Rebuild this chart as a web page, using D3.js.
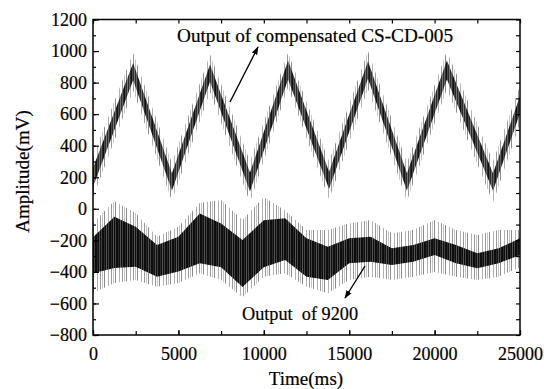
<!DOCTYPE html>
<html>
<head>
<meta charset="utf-8">
<script src="https://cdnjs.cloudflare.com/ajax/libs/d3/7.8.5/d3.min.js"></script>
<style>
  body { margin: 0; background: #fff; }
  text { font-family: "Liberation Serif", "Times New Roman", serif; fill: #000; stroke: #000; stroke-width: 0.2px; }
</style>
</head>
<body>
<div id="chart"></div>
<script>
// compensated CS-CD-005 output: centre line at the corners of the triangle wave (ms, mV)
var topTime = [0, 2350, 4620, 6850, 9190, 11420, 13820, 16100, 18380, 20720, 23420, 25000];
var topMid  = [200, 870, 170, 860, 170, 880, 180, 880, 170, 880, 170, 660];
var topCore  = [60, 55, 55, 55, 60, 60, 55, 55, 55, 60, 55, 55];   // half width of the dense band
var topSpike = [130, 120, 120, 120, 130, 110, 120, 120, 120, 120, 130, 120]; // half width of spikes

// 9200 output: envelopes (ms, mV)
var botTime = [0, 1250, 2500, 3750, 5000, 6250, 7500, 8750, 10000, 11250, 12500,
               13750, 15000, 16250, 17500, 18750, 20000, 21250, 22500, 23750, 25000];
var botCoreHi = [-180, -50, -113, -230, -177, -30, -93, -198, -72, -60, -187,
                 -240, -187, -177, -250, -230, -187, -230, -282, -250, -187];
var botCoreLo = [-408, -375, -367, -430, -398, -345, -370, -496, -370, -325, -430,
                 -452, -345, -335, -356, -335, -293, -345, -377, -345, -293];
var botSpikeHi = [-90, 50, -27, -177, -113, 36, 55, -71, 75, -10, -135,
                  -135, -93, -71, -155, -135, -71, -135, -166, -135, -135];
var botSpikeLo = [-533, -470, -452, -494, -470, -408, -452, -560, -430, -408, -494,
                  -535, -452, -430, -452, -430, -400, -430, -452, -430, -370];

var xTicks = [0, 5000, 10000, 15000, 20000, 25000];
var yTicks = [-800, -600, -400, -200, 0, 200, 400, 600, 800, 1000, 1200];

var margin = {top: 19.5, right: 24, bottom: 54, left: 93},
    W = 544, H = 389,
    width = W - margin.left - margin.right,
    height = H - margin.top - margin.bottom;

var svg = d3.select("#chart").append("svg")
    .attr("width", W).attr("height", H);

var defs = svg.append("defs");

// vertical stroke textures, like dense sampled noise
function stripes(id, w, bg, lines){
  var p = defs.append("pattern").attr("id", id)
      .attr("patternUnits", "userSpaceOnUse").attr("width", w).attr("height", 400);
  if (bg) p.append("rect").attr("width", w).attr("height", 400).attr("fill", bg);
  lines.forEach(function(s){
    p.append("rect").attr("x", s[0]).attr("width", 1).attr("height", 400).attr("fill", s[1]);
  });
}
stripes("spikes", 11, null, [[0, "#8a8a8a"], [4, "#b0b0b0"], [7, "#999"], [9, "#c4c4c4"]]);
stripes("coreTop", 7, "#2a2a2a", [[1, "#666"], [3, "#111"], [4, "#4a4a4a"], [6, "#777"]]);
stripes("coreBot", 7, "#0d0d0d", [[1, "#444"], [4, "#2a2a2a"], [6, "#555"]]);

var g = svg.append("g")
    .attr("transform", "translate(" + margin.left + "," + margin.top + ")");

var x = d3.scaleLinear().domain([0, 25000]).range([0, width]);
var y = d3.scaleLinear().domain([-800, 1200]).range([height, 0]);

var clip = defs.append("clipPath").attr("id", "plotclip");
clip.append("rect").attr("width", width).attr("height", height);

var plot = g.append("g").attr("clip-path", "url(#plotclip)");

// top signal
var topArea = function(half){
  return d3.area()
    .x(function(d, i){ return x(topTime[i]); })
    .y0(function(d, i){ return y(topMid[i] - half[i]); })
    .y1(function(d, i){ return y(topMid[i] + half[i]); });
};
plot.append("path").datum(topTime)
    .attr("d", topArea(topSpike)).attr("fill", "url(#spikes)");
plot.append("path").datum(topTime)
    .attr("d", topArea(topCore)).attr("fill", "url(#coreTop)");

// bottom signal
var botArea = function(lo, hi){
  return d3.area()
    .x(function(d, i){ return x(botTime[i]); })
    .y0(function(d, i){ return y(lo[i]); })
    .y1(function(d, i){ return y(hi[i]); });
};
plot.append("path").datum(botTime)
    .attr("d", botArea(botSpikeLo, botSpikeHi)).attr("fill", "url(#spikes)");
plot.append("path").datum(botTime)
    .attr("d", botArea(botCoreLo, botCoreHi)).attr("fill", "url(#coreBot)");

// axes, ticks inside on all four sides
var xMinor = d3.range(0, 25001, 2500);
var yMinor = d3.range(-800, 1201, 100);
function styleAxis(sel){
  sel.select(".domain").remove();
  sel.selectAll("line").attr("stroke", "#000").attr("stroke-width", 1.2);
}
g.append("g").attr("transform", "translate(0," + height + ")")
  .call(d3.axisBottom(x).tickValues(xMinor).tickSize(-4).tickFormat(""))
  .call(styleAxis);
g.append("g").attr("transform", "translate(0," + height + ")")
  .call(d3.axisBottom(x).tickValues(xTicks).tickSize(-5).tickPadding(12).tickFormat(d3.format("d")))
  .call(styleAxis)
  .selectAll("text").style("font-size", "18px").style("font-family", "Liberation Serif");
g.append("g")
  .call(d3.axisTop(x).tickValues(xMinor).tickSize(-4).tickFormat(""))
  .call(styleAxis);
g.append("g")
  .call(d3.axisLeft(y).tickValues(yMinor).tickSize(-3).tickFormat(""))
  .call(styleAxis);
g.append("g")
  .call(d3.axisLeft(y).tickValues(yTicks).tickSize(-6).tickPadding(6).tickFormat(d3.format("d")))
  .call(styleAxis)
  .selectAll("text").style("font-size", "18px").style("font-family", "Liberation Serif");
g.append("g").attr("transform", "translate(" + width + ",0)")
  .call(d3.axisRight(y).tickValues(yMinor).tickSize(-4).tickFormat(""))
  .call(styleAxis);

g.append("rect").attr("width", width).attr("height", height)
  .attr("fill", "none").attr("stroke", "#000").attr("stroke-width", 1.5);

// axis titles
svg.append("text").attr("x", 306).attr("y", 385)
  .attr("text-anchor", "middle").style("font-size", "19px").text("Time(ms)");
svg.append("text")
  .attr("transform", "translate(29,171.5) rotate(-90)")
  .attr("text-anchor", "middle").style("font-size", "19px").text("Amplitude(mV)");

// annotations
defs.append("marker").attr("id", "arrow").attr("viewBox", "0 0 10 10")
  .attr("refX", 9).attr("refY", 5).attr("markerWidth", 6).attr("markerHeight", 6)
  .attr("orient", "auto")
  .append("path").attr("d", "M0,1.5L10,5L0,8.5Z").attr("fill", "#000");

svg.append("text").attr("x", 177).attr("y", 42).style("font-size", "19px")
  .attr("textLength", 276).attr("lengthAdjust", "spacingAndGlyphs")
  .text("Output of compensated CS-CD-005");
svg.append("line").attr("x1", 230).attr("y1", 102).attr("x2", 258).attr("y2", 47)
  .attr("stroke", "#000").attr("stroke-width", 1.4).attr("marker-end", "url(#arrow)");

svg.append("text").attr("x", 242).attr("y", 320).style("font-size", "19px")
  .style("white-space", "pre").attr("textLength", 116).attr("lengthAdjust", "spacingAndGlyphs")
  .text("Output  of 9200");
svg.append("line").attr("x1", 365).attr("y1", 266).attr("x2", 345).attr("y2", 298)
  .attr("stroke", "#000").attr("stroke-width", 1.4).attr("marker-end", "url(#arrow)");
</script>
</body>
</html>
